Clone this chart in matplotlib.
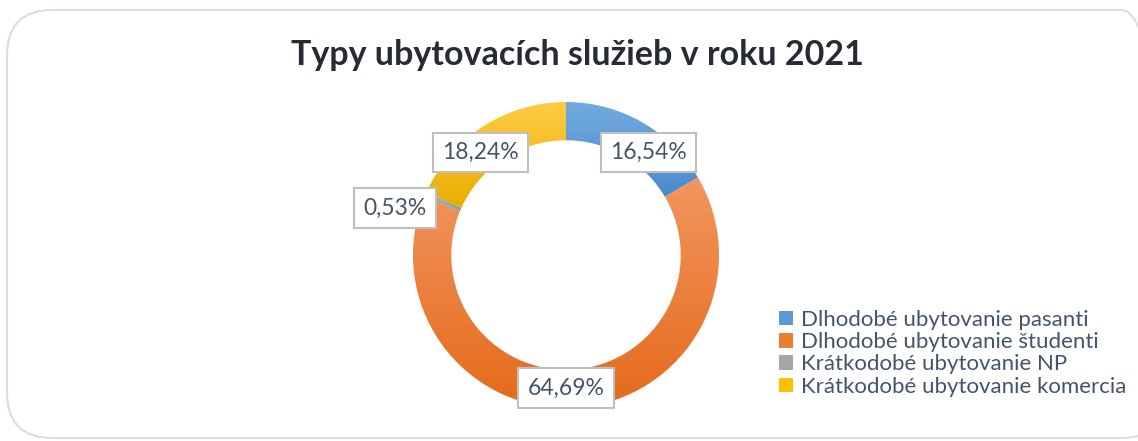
import matplotlib.pyplot as plt
from matplotlib.colors import LinearSegmentedColormap
from matplotlib.patches import FancyBboxPatch, Patch
import numpy as np

# Data
categories = ["Dlhodobé ubytovanie pasanti", "Dlhodobé ubytovanie študenti",
              "Krátkodobé ubytovanie NP", "Krátkodobé ubytovanie komercia"]
values = [16.54, 64.69, 0.53, 18.24]
labels = ["16,54%", "64,69%", "0,53%", "18,24%"]
title = "Typy ubytovacích služieb v roku 2021"

# gradient colours (top, bottom) for each slice
grad_colors = [("#72AADF", "#4A8ACB"),
               ("#F29660", "#E56A1A"),
               ("#B4B4B4", "#999999"),
               ("#FFCB45", "#E8AE00")]
legend_colors = ["#5B9BD5", "#ED7D31", "#A5A5A5", "#FFC000"]

# label placement tweaks (angle shift in degrees, radius)
label_shift = [-9, -4, 8, 7]
label_radius = [0.86, 0.87, 1.16, 0.87]

plt.rcParams['font.family'] = ['Lato', 'DejaVu Sans']

W, H = 1138, 441
fig = plt.figure(figsize=(W / 100, H / 100), dpi=100)

# rounded frame around the chart
frame = FancyBboxPatch((7 / W, 3 / H), 1160 / W, 428 / H,
                       boxstyle="round,pad=0,rounding_size=0.04",
                       transform=fig.transFigure, facecolor="none",
                       edgecolor="#D9DEE6", linewidth=1.5,
                       mutation_aspect=W / H, zorder=-1)
fig.patches.append(frame)

fig.text(577 / W, 1 - 55 / H, title, ha="center", va="center",
         fontsize=24.5, fontweight="bold", color="#262B36")

# axes: 1 data unit = 153 px, centre of donut at (566, 255)
R = 153
cx, cy = 566, H - 255
aw, ah = 400, 360
ax = fig.add_axes([(cx - aw / 2) / W, (cy - ah / 2) / H, aw / W, ah / H])

wedges, _ = ax.pie(values, startangle=90, counterclock=False, radius=1,
                   colors=legend_colors,
                   wedgeprops=dict(width=0.25, edgecolor="white", linewidth=0.8))
ax.set_aspect("auto")
ax.axis("off")

# vertical gradient fill for each slice
grad = np.linspace(0, 1, 256).reshape(-1, 1)
for w, (top, bottom) in zip(wedges, grad_colors):
    ext = w.get_path().get_extents()
    cmap = LinearSegmentedColormap.from_list("g", [bottom, top])
    im = ax.imshow(grad, cmap=cmap, origin="lower", aspect="auto",
                   extent=[ext.x0, ext.x1, ext.y0, ext.y1], zorder=2)
    im.set_clip_path(w)
ax.set_xlim(-aw / 2 / R, aw / 2 / R)
ax.set_ylim(-ah / 2 / R, ah / 2 / R)

# data labels
start = 90
for v, lab, sh, rr in zip(values, labels, label_shift, label_radius):
    mid = start - v * 3.6 / 2
    start -= v * 3.6
    a = np.deg2rad(mid + sh)
    ax.text(rr * np.cos(a), rr * np.sin(a), lab, ha="center", va="center",
            fontsize=16.5, color="#44546A", zorder=5,
            bbox=dict(boxstyle="square,pad=0.4", facecolor="white",
                      edgecolor="#BFBFBF", linewidth=1.5))

handles = [Patch(facecolor=c, edgecolor="none") for c in legend_colors]
fig.legend(handles, categories, loc="upper left",
           bbox_to_anchor=(779 / W, 1 - 310 / H), frameon=False,
           fontsize=16, labelcolor="#44546A", handlelength=0.62,
           handleheight=0.62, handletextpad=0.35, labelspacing=0.1,
           borderaxespad=0, borderpad=0)

fig.savefig("out.png", dpi=100)
